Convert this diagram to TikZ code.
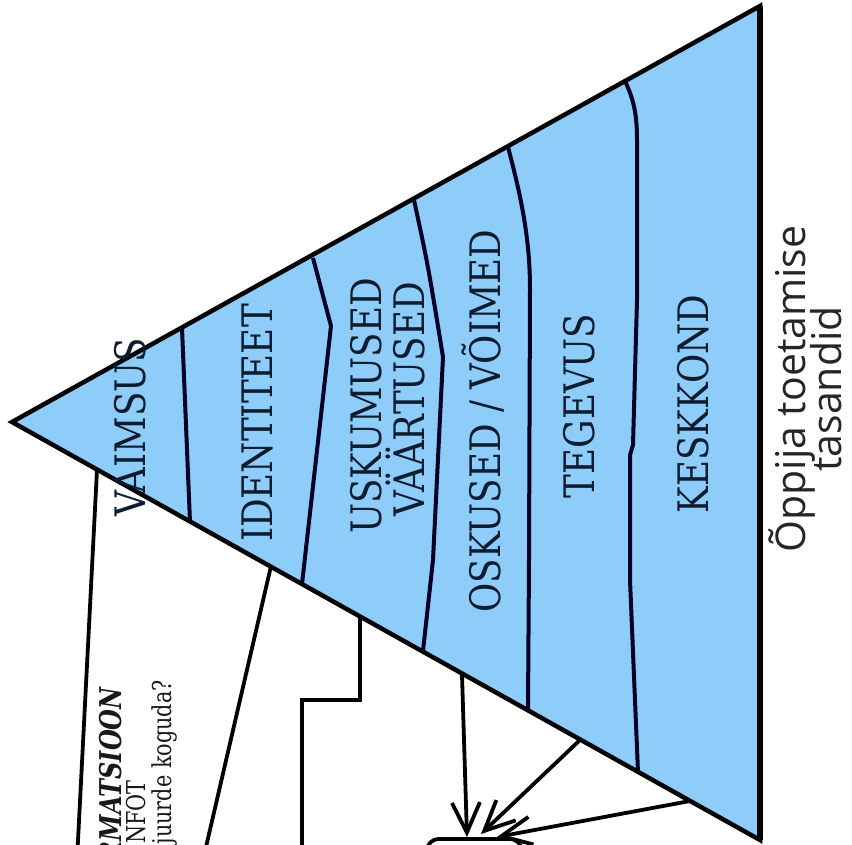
\documentclass[tikz,border=0pt]{standalone}
\usepackage{fontspec}
\setmainfont{DejaVu Serif}
\newfontfamily\sansf{Open Sans}
\usetikzlibrary{arrows.meta}
\definecolor{tribl}{RGB}{142,205,250}
\definecolor{navy}{RGB}{14,28,48}
\newcommand{\lbl}[1]{\scalebox{0.85}[1]{#1}}
\newcommand{\nrw}[1]{\scalebox{0.8}[1]{#1}}
\begin{document}
\begin{tikzpicture}[x=1pt,y=-1pt,
  lab/.style={rotate=90, anchor=base, inner sep=0pt, text=navy, font=\fontsize{42}{42}\selectfont},
  side/.style={rotate=90, anchor=base, inner sep=0pt, text=black!85, font=\sansf\fontsize{41}{38}\selectfont},
  note/.style={rotate=90, anchor=base east, inner sep=0pt, text=black!90},
  conn/.style={line width=3.8pt, black},
  arr/.style={conn, -{Straight Barb[length=30pt,width=28pt,line width=3.8pt]}},
  div/.style={line width=4pt, black!85!blue, line join=round},
]
\useasboundingbox (0,0) rectangle (852,845);
\clip (0,0) rectangle (852,845);

% corners of the triangle
\coordinate (apex) at (12,422);
\coordinate (tr) at (760,6);
\coordinate (br) at (760,840);

% connector end points
\coordinate (a1) at (97,470);  \coordinate (a2) at (77,860);
\coordinate (b1) at (271,566); \coordinate (b2) at (203,860);
\coordinate (c1) at (360,617); \coordinate (c2) at (360,700);
\coordinate (c3) at (302,700); \coordinate (c4) at (302,860);
\coordinate (d1) at (462,675); \coordinate (tipD) at (467,837);
\coordinate (e1) at (580,740); \coordinate (tipE) at (481,834);
\coordinate (f1) at (690,801); \coordinate (tipF) at (497,837);

% box at the bottom
\node[draw, line width=3.8pt, rounded corners=12pt, minimum width=95pt, minimum height=40pt, anchor=north west, inner sep=0pt] (box) at (425,837) {};

% connectors
\draw[conn] (a1) -- (a2);
\draw[conn] (b1) -- (b2);
\draw[conn, line join=miter] (c1) -- (c2) -- (c3) -- (c4);
\draw[arr] (d1) -- (tipD);
\draw[arr] (e1) -- (tipE);
\draw[arr] (f1) -- (tipF);

% triangle
\fill[tribl] (apex) -- (tr) -- (br) -- cycle;
\draw[div] (182,328) -- (190,522);
\draw[div] (313,258) -- (331,326) -- (302,584);
\draw[div] (414,200) .. controls (428,265) .. (443,357) -- (433,560) -- (423,651);
\draw[div] (508,147) .. controls (522,200) and (530,240) .. (530,290) -- (529,560) -- (528,709);
\draw[div] (625,81) .. controls (634,100) and (637,115) .. (637,140) -- (637,300) -- (633,445) -- (630,455) -- (630,580) -- (638,772);
\draw[line width=4.5pt, line join=miter] (apex) -- (tr) -- (br) -- cycle;
\draw[line width=5.5pt] (tr) -- (br);

% level labels
\node[lab] (vaimsus) at (145,427) {\lbl{VAIMSUS}};
\node[lab] (ident) at (272,423) {\lbl{IDENTITEET}};
\node[lab] (usk) at (381,406) {\lbl{USKUMUSED}};
\node[lab] (vaart) at (424,399) {\lbl{VÄÄRTUSED}};
\node[lab] (osk) at (500,421) {\lbl{OSKUSED / VÕIMED}};
\node[lab] (teg) at (594,406) {\lbl{TEGEVUS}};
\node[lab] (kesk) at (708,404) {\lbl{KESKKOND}};

% side title
\node[side] (t1) at (805,389) {Õppija toetamise};
\node[side] (t2) at (841,389) {tasandid};

% bottom-left notes
\node[note, font=\bfseries\itshape\fontsize{30}{30}\selectfont] (info) at (121,687) {\nrw{RMATSIOON}};
\node[note, font=\fontsize{26}{26}\selectfont] (infot) at (145,780) {\nrw{NFOT}};
\node[note, font=\fontsize{26}{26}\selectfont] (kog) at (171,680) {\nrw{juurde koguda?}};
\end{tikzpicture}
\end{document}
